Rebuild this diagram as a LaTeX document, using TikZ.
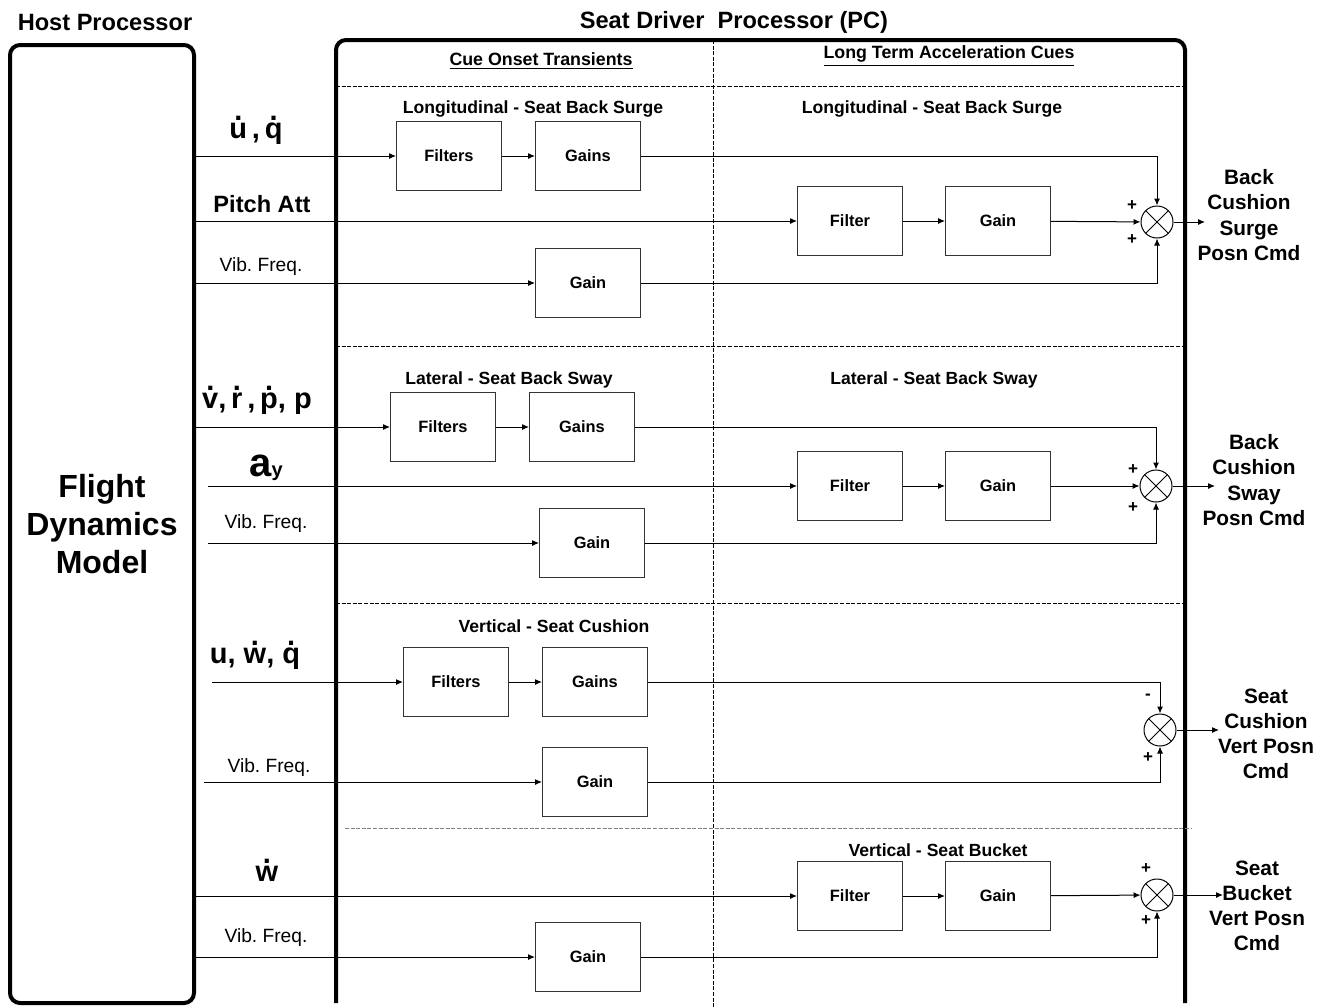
\documentclass[tikz,border=0pt]{standalone}
\usepackage{fontspec}
\setmainfont{Liberation Sans}
\usetikzlibrary{arrows.meta}
\frenchspacing

% dot accent over a letter
\newcommand{\dotted}[1]{\leavevmode\hbox{\ooalign{#1\cr\hidewidth\raisebox{0.62em}{.}\hidewidth\cr}}}

\tikzset{
  blk/.style={draw=black!80, line width=0.5pt, minimum width=52.5pt, minimum height=34.5pt,
    inner sep=0pt, font=\fontsize{8.2}{9}\selectfont\bfseries},
  sumj/.style={circle, draw, line width=0.5pt, minimum size=16pt, inner sep=0pt,
    path picture={\draw (path picture bounding box.north west) -- (path picture bounding box.south east)
      (path picture bounding box.south west) -- (path picture bounding box.north east);}},
  sect/.style={font=\fontsize{8.8}{10}\selectfont\bfseries},
  hdr/.style={font=\fontsize{8.9}{10}\selectfont\bfseries},
  ttl/.style={font=\fontsize{11.8}{13}\selectfont\bfseries},
  inlbl/.style={font=\fontsize{14.5}{16}\selectfont\bfseries},
  viblbl/.style={font=\fontsize{9.6}{11}\selectfont},
  outlbl/.style={align=center, font=\fontsize{10.4}{12.6}\selectfont\bfseries},
  sgn/.style={font=\fontsize{8.5}{9}\selectfont\bfseries, inner sep=0pt},
  sep/.style={line width=0.45pt, dash pattern=on 2pt off 0.8pt},
  wire/.style={line width=0.5pt},
}

\begin{document}
\begin{tikzpicture}[x=0.5pt, y=-0.5pt, >={Latex[length=3.5pt,width=3pt]}]
\useasboundingbox (0,0) rectangle (1328,1007);

% titles
\node[ttl] at (105,22) {Host Processor};
\node[ttl] at (734,22) {Seat Driver\ \ Processor (PC)};

% host and seat driver frames
\node[draw, line width=2pt, rounded corners=5pt, minimum width=92pt, minimum height=479pt,
  align=center, font=\fontsize{16}{19}\selectfont\bfseries] (host) at (102,524)
  {Flight\\Dynamics\\Model};
\draw[line width=2pt, rounded corners=5pt] (336,1003) -- (336,40) -- (1185,40) -- (1185,1003);

% dashed partitions
\draw[sep] (713,40) -- (713,1007);
\draw[sep] (336,86) -- (1185,86);
\draw[sep] (336,346) -- (1185,346);
\draw[sep] (336,603) -- (1185,603);
\draw[sep, black!50] (345,828) -- (1192,828);

\node[hdr] at (541,61) {\underline{Cue Onset Transients}};
\node[hdr] at (949,56) {\underline{Long Term Acceleration Cues}};

% ---- longitudinal, seat back surge
\node[sect] at (533,109) {Longitudinal - Seat Back Surge};
\node[sect] at (932,109) {Longitudinal - Seat Back Surge};
\node[blk] (fltA) at (449,156) {Filters};
\node[blk] (gnsA) at (588,156) {Gains};
\node[blk] (fltB) at (850,221) {Filter};
\node[blk] (gnB) at (998,221) {Gain};
\node[blk] (vibA) at (588,283) {Gain};
\node[sumj] (sjA) at (1157,222) {};
\coordinate (outA) at (1205,222);
\node[inlbl] at (256,133) {\dotted{u}\,,\,\dotted{q}};
\node[font=\fontsize{11.8}{13}\selectfont\bfseries] at (262,204) {Pitch Att};
\node[viblbl] at (261,267) {Vib. Freq.};
\draw[wire,->] (host.east |- fltA.west) -- (fltA.west);
\draw[wire,->] (fltA) -- (gnsA);
\draw[wire,->] (gnsA.east) -| (sjA.north);
\draw[wire,->] (host.east |- fltB.west) -- (fltB.west);
\draw[wire,->] (fltB) -- (gnB);
\draw[wire,->] (gnB) -- (sjA);
\draw[wire,->] (host.east |- vibA.west) -- (vibA.west);
\draw[wire,->] (vibA.east) -| (sjA.south);
\draw[wire,->] (sjA) -- (outA);
\node[sgn] at (1132,206) {+};
\node[sgn] at (1132,240) {+};
\node[outlbl] at (1249,215) {Back\\Cushion\\Surge\\Posn Cmd};

% ---- lateral, seat back sway
\node[sect] at (509,380) {Lateral - Seat Back Sway};
\node[sect] at (934,380) {Lateral - Seat Back Sway};
\node[blk] (fltC) at (443,427) {Filters};
\node[blk] (gnsC) at (582,427) {Gains};
\node[blk] (fltD) at (850,486) {Filter};
\node[blk] (gnD) at (998,486) {Gain};
\node[blk] (vibC) at (592,543) {Gain};
\node[sumj] (sjC) at (1156,486) {};
\coordinate (outC) at (1215,486);
\node[inlbl] at (257,404) {\dotted{v},\,\dotted{r}\,,\,\dotted{p}, p};
\node[inlbl] at (266,468) {\fontsize{20}{22}\selectfont a\fontsize{10}{12}\selectfont y};
\node[viblbl] at (266,524) {Vib. Freq.};
\draw[wire,->] (host.east |- fltC.west) -- (fltC.west);
\draw[wire,->] (fltC) -- (gnsC);
\draw[wire,->] (gnsC.east) -| (sjC.north);
\draw[wire,->] ([xshift=6]host.east |- fltD.west) -- (fltD.west);
\draw[wire,->] (fltD) -- (gnD);
\draw[wire,->] (gnD) -- (sjC);
\draw[wire,->] ([xshift=6]host.east |- vibC.west) -- (vibC.west);
\draw[wire,->] (vibC.east) -| (sjC.south);
\draw[wire,->] (sjC) -- (outC);
\node[sgn] at (1133,470) {+};
\node[sgn] at (1133,508) {+};
\node[outlbl] at (1254,480) {Back\\Cushion\\Sway\\Posn Cmd};

% ---- vertical, seat cushion
\node[sect] at (554,626) {Vertical - Seat Cushion};
\node[blk] (fltE) at (456,682) {Filters};
\node[blk] (gnsE) at (595,682) {Gains};
\node[blk] (vibE) at (595,782) {Gain};
\node[sumj] (sjE) at (1160,730) {};
\coordinate (outE) at (1219,730);
\node[inlbl] at (255,658) {u, \dotted{w}, \dotted{q}};
\node[viblbl] at (269,768) {Vib. Freq.};
\draw[wire,->] ([xshift=8]host.east |- fltE.west) -- (fltE.west);
\draw[wire,->] (fltE) -- (gnsE);
\draw[wire,->] (gnsE.east) -| (sjE.north);
\draw[wire,->] ([xshift=4]host.east |- vibE.west) -- (vibE.west);
\draw[wire,->] (vibE.east) -| (sjE.south);
\draw[wire,->] (sjE) -- (outE);
\node[sgn] at (1148,697) {-};
\node[sgn] at (1148,758) {+};
\node[outlbl] at (1266,734) {Seat\\Cushion\\Vert Posn\\Cmd};

% ---- vertical, seat bucket
\node[sect] at (938,850) {Vertical - Seat Bucket};
\node[blk] (fltF) at (850,896) {Filter};
\node[blk] (gnF) at (998,896) {Gain};
\node[blk] (vibF) at (588,957) {Gain};
\node[sumj] (sjF) at (1157,895) {};
\coordinate (outF) at (1223,895);
\node[inlbl] at (267,874) {\dotted{w}};
\node[viblbl] at (266,938) {Vib. Freq.};
\draw[wire,->] (host.east |- fltF.west) -- (fltF.west);
\draw[wire,->] (fltF) -- (gnF);
\draw[wire,->] (gnF) -- (sjF);
\draw[wire,->] (host.east |- vibF.west) -- (vibF.west);
\draw[wire,->] (vibF.east) -| (sjF.south);
\draw[wire,->] (sjF) -- (outF);
\node[sgn] at (1146,869) {+};
\node[sgn] at (1146,921) {+};
\node[outlbl] at (1257,906) {Seat\\Bucket\\Vert Posn\\Cmd};
\end{tikzpicture}
\end{document}
